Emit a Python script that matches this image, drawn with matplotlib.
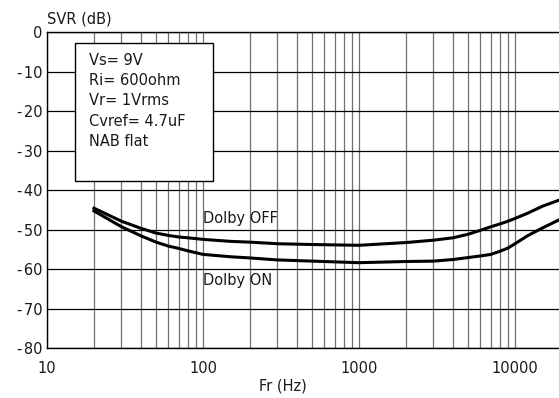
import matplotlib
matplotlib.use("Agg")
import matplotlib.pyplot as plt
from matplotlib.ticker import FixedLocator, FixedFormatter, NullFormatter

plt.rcParams['font.family'] = ['DejaVu Sans']

freq = [20, 30, 40, 50, 60, 70, 80, 100, 150, 200, 300, 500, 1000, 2000,
        3000, 4000, 5000, 6000, 7000, 8000, 9000, 10000, 12000, 15000, 20000]
svr_off = [-44.6, -47.9, -49.7, -50.9, -51.5, -51.9, -52.1, -52.5, -53.0, -53.2, -53.6, -53.8, -54.0, -53.3,
           -52.7, -52.1, -51.2, -50.2, -49.3, -48.6, -47.9, -47.2, -45.9, -44.1, -42.3]
svr_on = [-45.3, -49.3, -51.6, -53.2, -54.2, -54.8, -55.4, -56.3, -56.9, -57.2, -57.7, -58.0, -58.4, -58.1,
          -58.0, -57.6, -57.1, -56.7, -56.3, -55.5, -54.7, -53.6, -51.6, -49.6, -47.2]

x_ticks = [10, 100, 1000, 10000]
x_ticklabels = ["10", "100", "1000", "10000"]
y_ticks = [0, -10, -20, -30, -40, -50, -60, -70, -80]
y_ticklabels = ["0", "-\u200a10", "-\u200a20", "-\u200a30", "-\u200a40",
                "-\u200a50", "-\u200a60", "-\u200a70", "-\u200a80"]
minor_grid = [20, 30, 40, 50, 60, 70, 80, 90,
              200, 300, 400, 500, 600, 700, 800, 900,
              2000, 3000, 4000, 5000, 6000, 7000, 8000, 9000]
info_lines = ["Vs= 9V", "Ri= 600ohm", "Vr= 1Vrms", "Cvref= 4.7uF", "NAB flat"]

FS = 10.5
TXT = '#1a1a1a'

fig = plt.figure(figsize=(5.59, 3.98), dpi=100)
ax = fig.add_axes([0.0841, 0.1256, 0.9213, 0.794])
ax.set_xscale('log')
ax.set_xlim(10, 20000)
ax.set_ylim(-80, 0)

ax.xaxis.set_major_locator(FixedLocator(x_ticks))
ax.xaxis.set_major_formatter(FixedFormatter(x_ticklabels))
ax.xaxis.set_minor_locator(FixedLocator(minor_grid))
ax.xaxis.set_minor_formatter(NullFormatter())
ax.yaxis.set_major_locator(FixedLocator(y_ticks))
ax.yaxis.set_major_formatter(FixedFormatter(y_ticklabels))

ax.tick_params(which='both', length=0, labelsize=FS, pad=3, labelcolor=TXT)
ax.tick_params(axis='x', pad=9)
ax.grid(True, axis='x', which='both', color='#707070', lw=0.9)
ax.grid(True, axis='y', which='major', color='black', lw=0.9)
ax.set_axisbelow(True)

for s in ['top', 'left', 'bottom']:
    ax.spines[s].set_linewidth(1.0)
    ax.spines[s].set_color('black')
ax.spines['right'].set_visible(False)

ax.plot(freq, svr_off, color='black', lw=2.2, solid_joinstyle='round', zorder=3)
ax.plot(freq, svr_on, color='black', lw=2.2, solid_joinstyle='round', zorder=3)

ax.text(100, -47.3, "Dolby OFF", fontsize=FS, color=TXT, ha='left', va='center', zorder=4)
ax.text(100, -63.0, "Dolby ON", fontsize=FS, color=TXT, ha='left', va='center', zorder=4)

# info box
box = plt.Rectangle((0.0544, 0.528), 0.268, 0.437, transform=ax.transAxes,
                    facecolor='white', edgecolor='black', lw=1.0, zorder=5)
ax.add_patch(box)
for i, t in enumerate(info_lines):
    y_px = 60 + i * 20.4
    ax.text(0.0816, (348 - y_px) / 316, t, transform=ax.transAxes, fontsize=FS,
            color=TXT, ha='left', va='center', zorder=6)

fig.text(47 / 559, 1 - 19 / 398, "SVR (dB)", fontsize=FS, color=TXT, ha='left', va='center')
fig.text(283 / 559, 1 - 386 / 398, "Fr (Hz)", fontsize=FS, color=TXT, ha='center', va='center')

fig.savefig("out.png", dpi=100)
